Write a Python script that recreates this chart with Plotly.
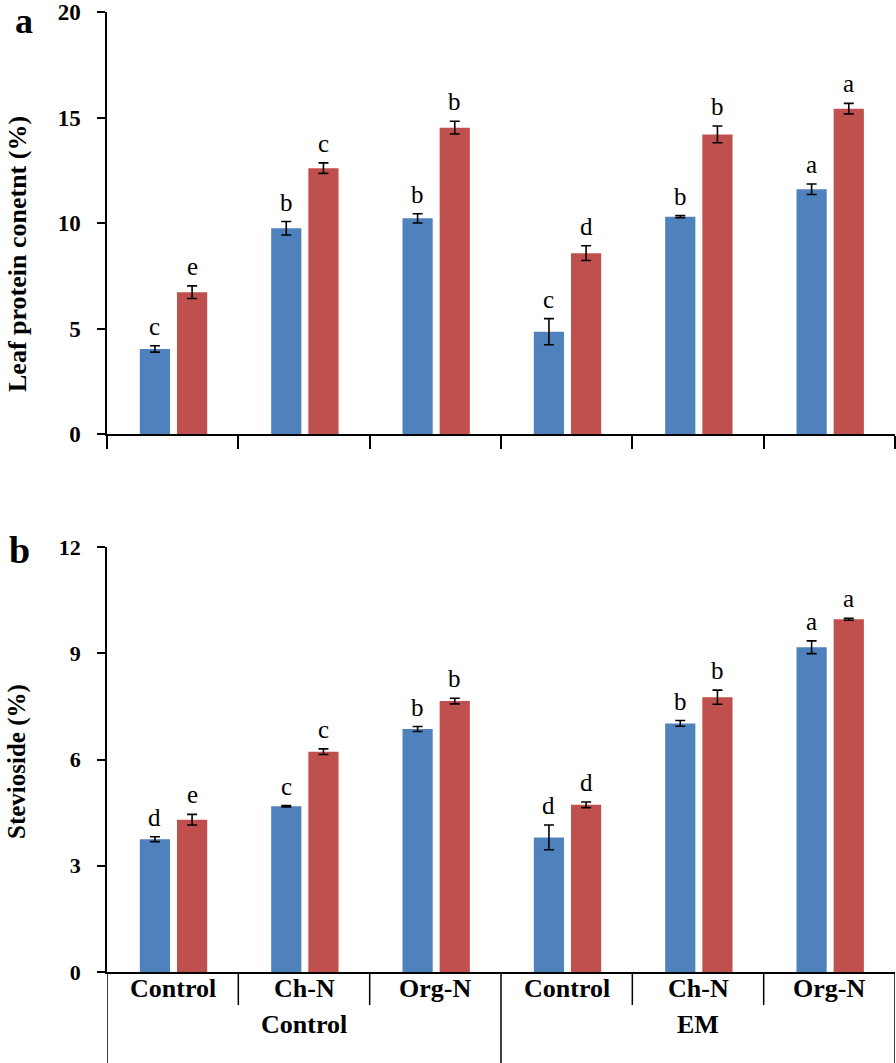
import plotly.graph_objects as go

# groups on the x axis
treatments = ["Control", "Ch-N", "Org-N", "Control", "Ch-N", "Org-N"]
inoculation = ["Control", "EM"]

# panel a: leaf protein content (%)
protein_blue = [4.03, 9.75, 10.22, 4.85, 10.3, 11.6]
protein_blue_err = [0.15, 0.32, 0.22, 0.62, 0.05, 0.25]
protein_red = [6.72, 12.6, 14.52, 8.57, 14.2, 15.42]
protein_red_err = [0.3, 0.25, 0.3, 0.35, 0.4, 0.25]
protein_blue_letters = ["c", "b", "b", "c", "b", "a"]
protein_red_letters = ["e", "c", "b", "d", "b", "a"]

# panel b: stevioside (%)
stev_blue = [3.75, 4.68, 6.86, 3.8, 7.02, 9.17]
stev_blue_err = [0.07, 0.02, 0.07, 0.35, 0.08, 0.18]
stev_red = [4.3, 6.22, 7.65, 4.72, 7.76, 9.96]
stev_red_err = [0.15, 0.08, 0.08, 0.08, 0.2, 0.03]
stev_blue_letters = ["d", "c", "b", "d", "b", "a"]
stev_red_letters = ["e", "c", "b", "d", "b", "a"]

BLUE = "#4F81BD"
RED = "#C0504D"
FONT = "Liberation Serif"
W, H = 896, 1063
BAR_W = 0.23
OFF_BLUE = -0.25
OFF_RED = 0.033


def px(x):
    return x / W


def py(y):
    return 1 - y / H


xpos = list(range(len(treatments)))

fig = go.Figure()


def add_panel(blue, blue_err, red, red_err, bl, rl, xa, ya):
    for vals, err, off, col, letters in [
        (blue, blue_err, OFF_BLUE, BLUE, bl),
        (red, red_err, OFF_RED, RED, rl),
    ]:
        fig.add_trace(go.Bar(
            x=xpos, y=vals, width=BAR_W, offset=off,
            marker=dict(color=col, line=dict(width=0)),
            error_y=dict(type="data", array=err, color="black", thickness=1.6, width=5),
            xaxis=xa, yaxis=ya, showlegend=False,
        ))
        for x, v, e, t in zip(xpos, vals, err, letters):
            fig.add_annotation(x=x + off + BAR_W / 2, y=v + e, xref=xa, yref=ya,
                               text=t, showarrow=False, xanchor="center", yanchor="bottom",
                               yshift=4, font=dict(family=FONT, size=25, color="black"))


add_panel(protein_blue, protein_blue_err, protein_red, protein_red_err,
          protein_blue_letters, protein_red_letters, "x", "y")
add_panel(stev_blue, stev_blue_err, stev_red, stev_red_err,
          stev_blue_letters, stev_red_letters, "x2", "y2")

xdom = [px(107), px(895)]
dom_a = [py(434), py(12)]
dom_b = [py(972), py(547)]
bounds = [i - 0.5 for i in range(len(treatments) + 1)]

axis_line = dict(showline=True, linecolor="black", linewidth=1.5, showgrid=False,
                 zeroline=False, automargin=False)
fig.update_layout(
    width=W, height=H,
    margin=dict(l=0, r=0, t=0, b=0, autoexpand=False),
    paper_bgcolor="white", plot_bgcolor="white",
    xaxis=dict(domain=xdom, range=[-0.5, 5.5], anchor="y", tickvals=bounds,
               ticks="outside", ticklen=13, tickcolor="black", tickwidth=1.5,
               showticklabels=False, **axis_line),
    yaxis=dict(domain=dom_a, range=[0, 20], dtick=5, anchor="x",
               ticks="outside", ticklen=8, tickcolor="black", tickwidth=1.5,
               ticklabelstandoff=12, ticklabeloverflow="allow",
               tickfont=dict(family=FONT, size=23, color="black", weight="bold"), **axis_line),
    xaxis2=dict(domain=xdom, range=[-0.5, 5.5], anchor="y2", showticklabels=False,
                ticks="", **axis_line),
    yaxis2=dict(domain=dom_b, range=[0, 12], dtick=3, anchor="x2",
                ticks="outside", ticklen=8, tickcolor="black", tickwidth=1.5,
                ticklabelstandoff=12, ticklabeloverflow="allow",
                tickfont=dict(family=FONT, size=22, color="black", weight="bold"), **axis_line),
)

# hierarchical category labels under panel b
for b in bounds:
    full = b in (-0.5, 2.5, 5.5)
    fig.add_shape(type="line", xref="x2", yref="paper",
                  x0=b, x1=b, y0=py(972), y1=py(H) if full else py(1005),
                  line=dict(color="black", width=1.5))
for x, t in zip(xpos, treatments):
    fig.add_annotation(x=x, y=py(988), xref="x2", yref="paper",
                       xanchor="center", yanchor="middle",
                       text=f"<b>{t}</b>", showarrow=False,
                       font=dict(family=FONT, size=26, color="black"))
for i, t in enumerate(inoculation):
    fig.add_annotation(x=1 + 3 * i, y=py(1024), xref="x2", yref="paper",
                       xanchor="center", yanchor="middle",
                       text=f"<b>{t}</b>", showarrow=False,
                       font=dict(family=FONT, size=26, color="black"))

# axis titles and panel letters
fig.add_annotation(x=px(17), y=py(254), xref="paper", yref="paper", textangle=-90,
                   xanchor="center", yanchor="middle",
                   text="<b>Leaf protein conetnt (%)</b>", showarrow=False,
                   font=dict(family=FONT, size=26, color="black"))
fig.add_annotation(x=px(17), y=py(762), xref="paper", yref="paper", textangle=-90,
                   xanchor="center", yanchor="middle",
                   text="<b>Stevioside (%)</b>", showarrow=False,
                   font=dict(family=FONT, size=25, color="black"))
fig.add_annotation(x=px(24), y=py(21), xref="paper", yref="paper",
                   xanchor="center", yanchor="middle",
                   text="<b>a</b>", showarrow=False,
                   font=dict(family=FONT, size=36, color="black"))
fig.add_annotation(x=px(19), y=py(550), xref="paper", yref="paper",
                   xanchor="center", yanchor="middle",
                   text="<b>b</b>", showarrow=False,
                   font=dict(family=FONT, size=38, color="black"))

# the page body has a default 8px margin; drop it so the figure fills the window
fig.write_html("out.html", config={"displayModeBar": False},
               post_script="document.body.style.margin='0px';")
